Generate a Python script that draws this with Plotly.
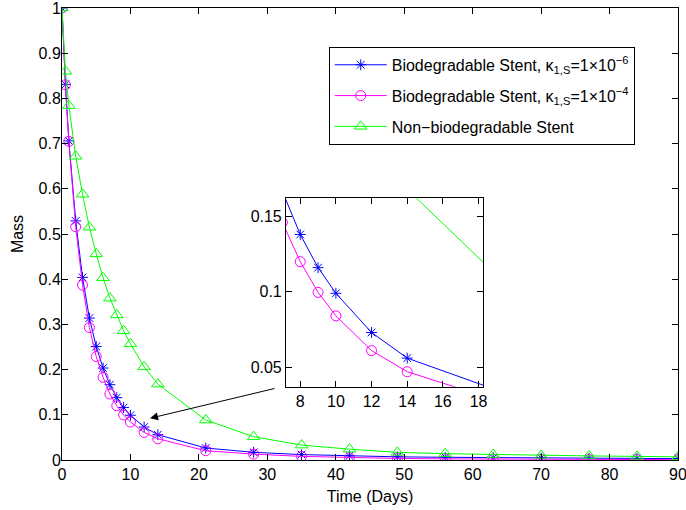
import plotly.graph_objects as go

# ---- data ----
time_days = [0, 0.5, 1, 2, 3, 4, 5, 6, 7, 8, 9, 10, 12, 14, 21, 28, 35, 42, 49, 56, 63, 70, 77, 84, 90]
bio_k6 = [1.0, 0.831, 0.706, 0.529, 0.404, 0.314, 0.251, 0.2035, 0.1666, 0.138, 0.116, 0.099, 0.073, 0.056,
          0.0265, 0.017, 0.012, 0.009, 0.007, 0.006, 0.005, 0.0045, 0.004, 0.0035, 0.003]
bio_k4 = [1.0, 0.83, 0.705, 0.516, 0.387, 0.293, 0.229, 0.183, 0.146, 0.12, 0.0996, 0.084, 0.061, 0.047,
          0.0205, 0.013, 0.008, 0.005, 0.0035, 0.0025, 0.002, 0.0015, 0.0012, 0.001, 0.0008]
nonbio = [1.0, 0.86, 0.784, 0.672, 0.588, 0.515, 0.456, 0.403, 0.358, 0.321, 0.286, 0.257, 0.206, 0.168,
          0.0885, 0.0516, 0.033, 0.024, 0.017, 0.014, 0.012, 0.010, 0.009, 0.008, 0.007]

names = ["Biodegradable Stent, κ<sub>1,S</sub>=1×10<sup>−6</sup>",
         "Biodegradable Stent, κ<sub>1,S</sub>=1×10<sup>−4</sup>",
         "Non−biodegradable Stent"]
colors = ["#0000FF", "#FF00FF", "#00FF00"]
symbols = ["asterisk-open", "circle-open", "triangle-up-open"]
sizes = [9, 10, 11]
series = [bio_k6, bio_k4, nonbio]

x_ticks = list(range(0, 91, 10))
y_ticks = [round(0.1 * i, 1) for i in range(11)]
inset_x_ticks = [8, 10, 12, 14, 16, 18]
inset_y_ticks = [0.05, 0.1, 0.15]

FONT = "Liberation Sans, Arial, sans-serif"
FS = 16

fig = go.Figure()
for i, (name, ys, c, s, sz) in enumerate(zip(names, series, colors, symbols, sizes)):
    fig.add_trace(go.Scatter(x=time_days, y=ys, name=name, mode="lines+markers",
                             legendgroup="g%d" % i,
                             line=dict(color=c, width=1),
                             marker=dict(symbol=s, size=sz, color=c, line=dict(color=c, width=1)),
                             xaxis="x", yaxis="y"))
for i, (name, ys, c, s, sz) in enumerate(zip(names, series, colors, symbols, sizes)):
    fig.add_trace(go.Scatter(x=time_days, y=ys, name=name, mode="lines+markers", showlegend=False,
                             legendgroup="g%d" % i,
                             line=dict(color=c, width=1),
                             marker=dict(symbol=s, size=sz, color=c, line=dict(color=c, width=1)),
                             xaxis="x2", yaxis="y2"))

axis_common = dict(showline=True, linecolor="black", linewidth=1, mirror="ticks",
                   ticks="inside", ticklen=6, tickcolor="black", showgrid=False, zeroline=False,
                   automargin=False, ticklabeloverflow="allow",
                   tickfont=dict(family=FONT, size=FS, color="black"))

fig.update_layout(
    width=686, height=510,
    margin=dict(l=62, r=8, t=8, b=50),
    paper_bgcolor="white", plot_bgcolor="white",
    font=dict(family=FONT, size=FS, color="black"),
    xaxis=dict(range=[0, 90], tickvals=x_ticks, domain=[0, 1],
               title=dict(text="Time (Days)", font=dict(size=FS), standoff=8), **axis_common),
    yaxis=dict(range=[0, 1], tickvals=y_ticks, ticktext=[("%g" % v) for v in y_ticks], domain=[0, 1],
               title=dict(text="Mass", font=dict(size=FS), standoff=10), ticklabelstandoff=-3,
               **axis_common),
    xaxis2=dict(range=[7.2, 18.25], tickvals=inset_x_ticks, domain=[0.3636, 0.6834], anchor="y2",
                **axis_common),
    yaxis2=dict(range=[0.037, 0.162], tickvals=inset_y_ticks, ticktext=["0.05", "0.1", "0.15"],
                domain=[0.162, 0.579], anchor="x2", **axis_common),
    legend=dict(x=0.433, y=0.914, xanchor="left", yanchor="top",
                bordercolor="black", borderwidth=1, bgcolor="white",
                font=dict(family=FONT, size=FS, color="black"),
                itemwidth=52, tracegroupgap=7),
    showlegend=True,
)

fig.add_annotation(x=12.86, y=0.0923, ax=31.27, ay=0.159, xref="x", yref="y", axref="x", ayref="y",
                   text="", showarrow=True, arrowhead=2, arrowsize=1.6, arrowwidth=1, arrowcolor="black")

fig.write_html("out.html", config={"displayModeBar": False},
               post_script="document.body.style.margin='0px';")
